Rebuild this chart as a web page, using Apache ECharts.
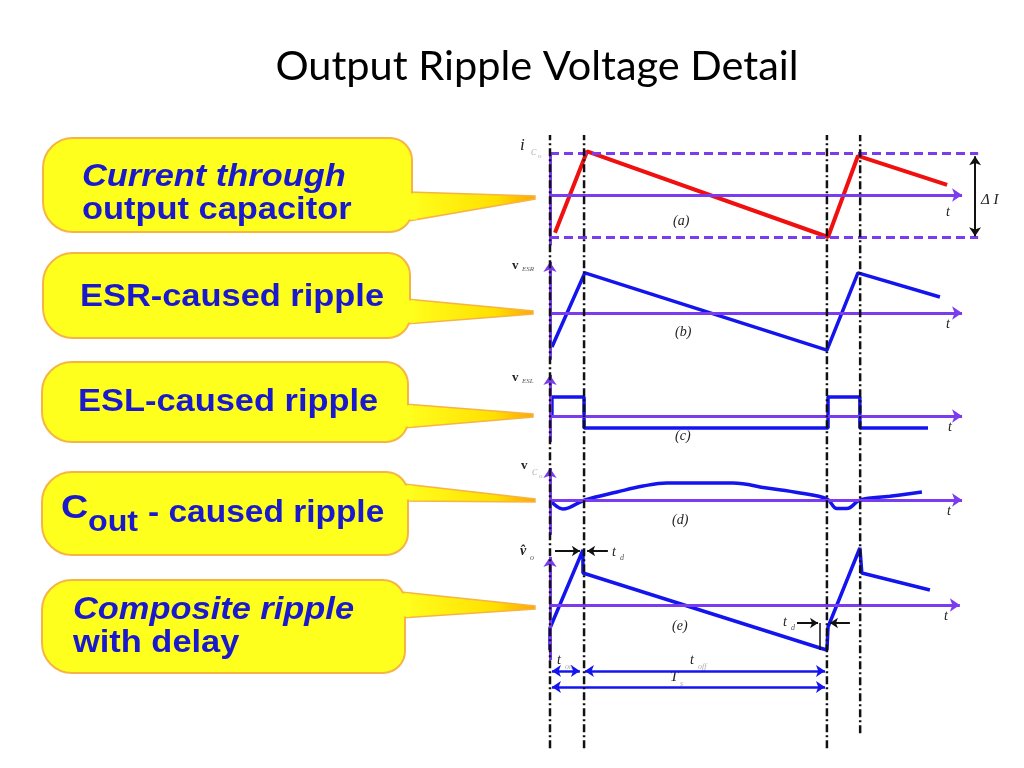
<!DOCTYPE html>
<html>
<head>
<meta charset="utf-8">
<title>Output Ripple Voltage Detail</title>
<script src="https://cdn.jsdelivr.net/npm/echarts@6/dist/echarts.min.js"></script>
</head>
<body style="margin:0;background:#fff">
<div id="main" style="width:1024px;height:768px;"></div>
<script type="text/javascript">
// time in units where one switching period T = 10
var edgeTimes = [0, 1.23, 10, 11.2];
var edgeBottom = [0.011, 0.011, 0.011, 0.035];
var edgeTop = [0.992, 0.992, 0.992, 0.992];

// (a) current through output capacitor
var icTime = [0.18, 1.34, 10.04, 11.12, 14.34];
var icValue = [-0.9, 1.04, -1.0, 0.93, 0.24];
// (b) ESR-caused ripple
var esrTime = [0.07, 1.26, 10.0, 11.12, 14.08];
var esrValue = [-0.87, 1.03, -0.95, 1.03, 0.41];
// (c) ESL-caused ripple
var eslTime = [0.07, 0.07, 1.23, 1.23, 10.04, 10.04, 11.19, 11.19, 13.65];
var eslValue = [0, 1, 1, -0.63, -0.63, 1, 1, -0.63, -0.63];
// (d) Cout-caused ripple
var coutTime = [0, 0.47, 1.26, 2.42, 3.36, 4.22, 6.6, 7.83, 9.03, 10.0, 10.36, 10.72, 11.2, 12.27, 13.43];
var coutValue = [0, -0.53, 0, 0.47, 0.82, 1, 1, 0.7, 0.41, 0.06, -0.5, -0.5, 0, 0.22, 0.47];
// (e) composite ripple with delay
var compTime = [0, 0, 1.19, 1.19, 9.75, 10.0, 10.04, 10.04, 11.19, 11.26, 11.26, 13.72];
var compValue = [-0.9, -0.46, 1.1, 0.64, -0.86, -0.9, -0.9, -0.44, 1.14, 1.1, 0.64, 0.3];

var PURPLE = '#7b3cf0';
var BLUE = '#1414ee';
var RED = '#f01010';
var X_MAX = 16.25;

var myChart = echarts.init(document.getElementById('main'));

var panels = [
    {top: 136.2, height: 117.6, min: -1.4, max: 1.4},
    {top: 258.4, height: 109.2, min: -1.4, max: 1.4},
    {top: 370.4, height: 76, min: -1.6, max: 2.4},
    {top: 462.6, height: 78.2, min: -2.4, max: 2.2},
    {top: 545, height: 155, min: -1.9, max: 1.2},
    {top: 130, height: 625, min: 0, max: 1}
];

function pairs(ts, vs) {
    return ts.map(function (t, i) { return [t, vs[i]]; });
}

function marks(idx, style, symbol, size, lines) {
    return {
        type: 'line', xAxisIndex: idx, yAxisIndex: idx, data: [], z: 1, silent: true,
        markLine: {
            silent: true, animation: false, symbol: symbol, symbolSize: size,
            label: {show: false}, lineStyle: style,
            data: lines.map(function (l) {
                return [{coord: [l[0], l[1]]}, {coord: [l[2], l[3]]}];
            })
        }
    };
}

function wave(idx, ts, vs, color, width, smooth) {
    return {
        type: 'line', xAxisIndex: idx, yAxisIndex: idx, z: 3, symbol: 'none', silent: true,
        smooth: smooth || false,
        lineStyle: {color: color, width: width},
        data: pairs(ts, vs)
    };
}

var purpleAxis = {color: PURPLE, width: 3, type: 'solid'};
var series = [
    marks(0, purpleAxis, ['none', 'arrow'], 10, [[0, 0, 14.88, 0]]),
    marks(0, purpleAxis, 'none', 10, [[0, -1.2, 0, 1.0]]),
    marks(0, {color: PURPLE, width: 3, type: [9, 5]}, 'none', 10, [[0, 1, 15.46, 1], [0, -1, 15.46, -1]]),
    marks(0, {color: '#111', width: 2, type: 'solid'}, ['arrow', 'arrow'], 9, [[15.35, 0.92, 15.35, -0.98]]),
    marks(1, purpleAxis, ['none', 'arrow'], 10, [[0, 0, 14.88, 0], [0, -1.2, 0, 1.31]]),
    marks(2, purpleAxis, ['none', 'arrow'], 10, [[0, 0, 14.88, 0], [0, -1.37, 0, 2.16]]),
    marks(3, purpleAxis, ['none', 'arrow'], 10, [[0, 0, 14.88, 0], [0, -2.05, 0, 1.88]]),
    marks(4, purpleAxis, ['none', 'arrow'], 10, [[0, 0, 14.8, 0], [0, -1.1, 0, 0.96]]),
    marks(4, {color: '#111', width: 2, type: 'solid'}, ['none', 'arrow'], 8,
        [[0.18, 1.08, 1.08, 1.08], [2.09, 1.08, 1.34, 1.08], [8.92, -0.36, 9.68, -0.36], [10.83, -0.36, 10.11, -0.36]]),
    marks(4, {color: '#111', width: 1.5, type: 'solid'}, 'none', 8, [[9.75, -0.36, 9.75, -0.9]]),
    marks(4, {color: BLUE, width: 2.5, type: 'solid'}, ['arrow', 'arrow'], 9,
        [[0.07, -1.32, 1.08, -1.32], [1.26, -1.32, 9.93, -1.32], [0.07, -1.64, 9.93, -1.64]]),
    wave(0, icTime, icValue, RED, 4),
    wave(1, esrTime, esrValue, BLUE, 3.5),
    wave(2, eslTime, eslValue, BLUE, 3.5),
    wave(3, coutTime, coutValue, BLUE, 3.5, 0.4),
    wave(4, compTime, compValue, BLUE, 3.5)
];
edgeTimes.forEach(function (t, k) {
    series.push({
        type: 'line', xAxisIndex: 5, yAxisIndex: 5, z: 5, symbol: 'none', silent: true,
        lineStyle: {color: '#111', width: 2.5, type: [8, 3, 2, 3]},
        data: [[t, edgeBottom[k]], [t, edgeTop[k]]]
    });
});

// callout boxes on the left
var boxes = [
    {x: 43, y: 138, w: 369, h: 94, tail: [[408, 192], [535, 196], [535, 199], [408, 221]]},
    {x: 43, y: 253, w: 367, h: 85, tail: [[406, 299], [533, 311], [533, 314], [406, 324]]},
    {x: 42, y: 362, w: 366, h: 80, tail: [[404, 404], [533, 414], [533, 417], [404, 428]]},
    {x: 42, y: 472, w: 366, h: 83, tail: [[404, 484], [535, 499], [535, 502], [404, 501]]},
    {x: 42, y: 580, w: 363, h: 93, tail: [[401, 592], [535, 606], [535, 609], [401, 618]]}
];
var YELLOW = '#ffff1e';
var EDGE = '#f5b445';
var graphics = [];
boxes.forEach(function (b) {
    graphics.push({
        type: 'polygon', shape: {points: b.tail},
        style: {
            fill: {type: 'linear', x: 0, y: 0, x2: 1, y2: 0,
                colorStops: [{offset: 0, color: YELLOW}, {offset: 0.7, color: '#ffe000'}, {offset: 1, color: '#ffa500'}]},
            stroke: EDGE, lineWidth: 1.5
        }
    });
    graphics.push({
        type: 'rect', shape: {x: b.x, y: b.y, width: b.w, height: b.h, r: [30, 22, 22, 30]},
        style: {fill: YELLOW, stroke: EDGE, lineWidth: 2}
    });
    var t0 = b.tail[0][1], t1 = b.tail[3][1];
    graphics.push({
        type: 'rect', shape: {x: b.x + b.w - 4, y: t0 + 1.5, width: 9, height: t1 - t0 - 3},
        style: {fill: YELLOW}
    });
});

function txt(s, x, y, font, color, sx, align) {
    return {
        type: 'text', x: x, y: y, scaleX: sx || 1,
        style: {text: s, font: font, fill: color || '#222',
            textAlign: align || 'left', align: align || 'left',
            textVerticalAlign: 'middle', verticalAlign: 'middle'}
    };
}
var TXT = '#1a1acc';
var BIG = 'bold 31px "Liberation Sans", Arial, sans-serif';
var BIGI = 'italic bold 31px "Liberation Sans", Arial, sans-serif';
var SX = 1.11;
graphics.push(
    txt('Output Ripple Voltage Detail', 537, 67, '41.5px Lato, "Open Sans", sans-serif', '#000', 1, 'center'),
    txt('Current through', 82, 177, BIGI, TXT, SX),
    txt('output capacitor', 82, 210, BIG, TXT, SX),
    txt('ESR-caused ripple', 80, 297, BIG, TXT, SX),
    txt('ESL-caused ripple', 78, 402, BIG, TXT, SX),
    txt('C', 61, 509, 'bold 34px "Liberation Sans", Arial, sans-serif', TXT, SX),
    txt('out', 88, 523, 'bold 29px "Liberation Sans", Arial, sans-serif', TXT, SX),
    txt('- caused ripple', 148, 513, BIG, TXT, 1.08),
    txt('Composite ripple', 73, 610, BIGI, TXT, SX),
    txt('with delay', 73, 643, BIG, TXT, SX)
);

var SER = '"Liberation Serif", "DejaVu Serif", serif';
var lab = [
    ['i', 520, 146, 'italic 17px ' + SER, '#222'],
    ['C', 531, 153, 'italic 8px ' + SER, '#aaa'],
    ['o', 538, 156, '7px ' + SER, '#aaa'],
    ['v', 512, 266, 'bold 13px ' + SER, '#222'],
    ['ESR', 522, 269, 'italic 7px ' + SER, '#555'],
    ['v', 512, 378, 'bold 13px ' + SER, '#222'],
    ['ESL', 522, 381, 'italic 7px ' + SER, '#555'],
    ['v', 521, 466, 'bold 13px ' + SER, '#222'],
    ['C', 532, 473, 'italic 8px ' + SER, '#aaa'],
    ['o', 539, 476, '7px ' + SER, '#aaa'],
    ['v\u0302', 520, 551, 'italic bold 14px ' + SER, '#222'],
    ['o', 530, 558, 'italic 8px ' + SER, '#555'],
    ['t', 946, 212, 'italic 14px ' + SER, '#222'],
    ['t', 946, 324, 'italic 14px ' + SER, '#222'],
    ['t', 948, 427, 'italic 14px ' + SER, '#222'],
    ['t', 947, 511, 'italic 14px ' + SER, '#222'],
    ['t', 944, 616, 'italic 14px ' + SER, '#222'],
    ['(a)', 673, 221, 'italic 14px ' + SER, '#222'],
    ['(b)', 675, 332, 'italic 14px ' + SER, '#222'],
    ['(c)', 675, 436, 'italic 14px ' + SER, '#222'],
    ['(d)', 672, 520, 'italic 14px ' + SER, '#222'],
    ['(e)', 672, 626, 'italic 14px ' + SER, '#222'],
    ['t', 612, 552, 'italic 14px ' + SER, '#222'],
    ['d', 620, 558, 'italic 8px ' + SER, '#555'],
    ['t', 783, 622, 'italic 14px ' + SER, '#222'],
    ['d', 791, 628, 'italic 8px ' + SER, '#555'],
    ['t', 557, 660, 'italic 14px ' + SER, '#222'],
    ['on', 565, 667, 'italic 8px ' + SER, '#aaa'],
    ['t', 690, 660, 'italic 14px ' + SER, '#222'],
    ['off', 698, 667, 'italic 8px ' + SER, '#aaa'],
    ['T', 670, 677, 'italic 15px ' + SER, '#222'],
    ['s', 680, 684, 'italic 8px ' + SER, '#aaa'],
    ['\u0394 I', 981, 200, 'italic 15px ' + SER, '#222']
];
lab.forEach(function (l) { graphics.push(txt(l[0], l[1], l[2], l[3], l[4])); });

var option = {
    animation: false,
    backgroundColor: '#fff',
    grid: panels.map(function (p) {
        return {left: 550, width: 450, top: p.top, height: p.height};
    }),
    xAxis: panels.map(function (p, i) {
        return {gridIndex: i, type: 'value', min: 0, max: X_MAX, show: false};
    }),
    yAxis: panels.map(function (p, i) {
        return {gridIndex: i, type: 'value', min: p.min, max: p.max, show: false};
    }),
    graphic: {elements: graphics},
    series: series
};
myChart.setOption(option);
</script>
</body>
</html>
